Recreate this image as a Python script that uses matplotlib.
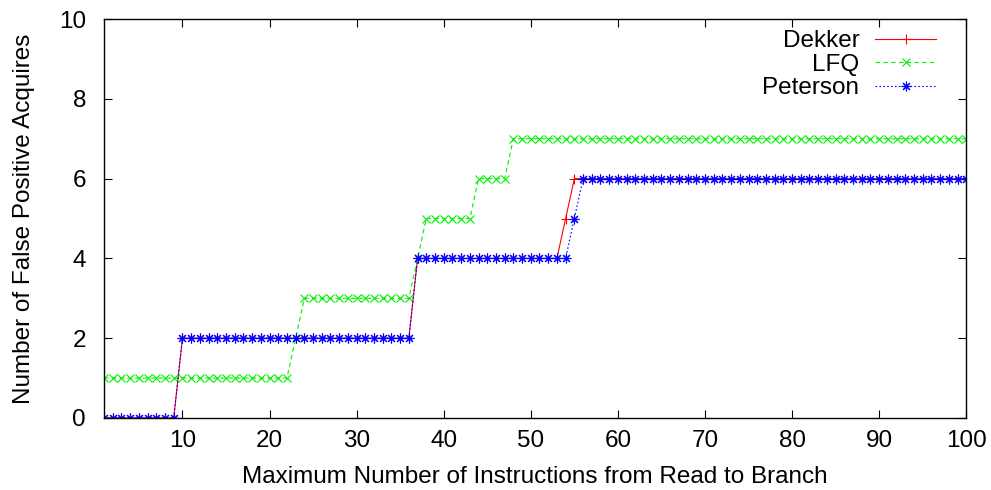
import numpy as np
import matplotlib
matplotlib.use("Agg")
import matplotlib.pyplot as plt

plt.rcParams["font.family"] = ["Liberation Sans", "DejaVu Sans"]

# instruction window 1..100
max_instr = list(range(1, 101))

dekker = [0, 0, 0, 0, 0, 0, 0, 0, 0, 2,
          2, 2, 2, 2, 2, 2, 2, 2, 2, 2,
          2, 2, 2, 2, 2, 2, 2, 2, 2, 2,
          2, 2, 2, 2, 2, 2, 4, 4, 4, 4,
          4, 4, 4, 4, 4, 4, 4, 4, 4, 4,
          4, 4, 4, 5, 6, 6, 6, 6, 6, 6,
          6, 6, 6, 6, 6, 6, 6, 6, 6, 6,
          6, 6, 6, 6, 6, 6, 6, 6, 6, 6,
          6, 6, 6, 6, 6, 6, 6, 6, 6, 6,
          6, 6, 6, 6, 6, 6, 6, 6, 6, 6]

lfq = [1, 1, 1, 1, 1, 1, 1, 1, 1, 1,
       1, 1, 1, 1, 1, 1, 1, 1, 1, 1,
       1, 1, 2, 3, 3, 3, 3, 3, 3, 3,
       3, 3, 3, 3, 3, 3, 4, 5, 5, 5,
       5, 5, 5, 6, 6, 6, 6, 7, 7, 7,
       7, 7, 7, 7, 7, 7, 7, 7, 7, 7,
       7, 7, 7, 7, 7, 7, 7, 7, 7, 7,
       7, 7, 7, 7, 7, 7, 7, 7, 7, 7,
       7, 7, 7, 7, 7, 7, 7, 7, 7, 7,
       7, 7, 7, 7, 7, 7, 7, 7, 7, 7]

peterson = [0, 0, 0, 0, 0, 0, 0, 0, 0, 2,
            2, 2, 2, 2, 2, 2, 2, 2, 2, 2,
            2, 2, 2, 2, 2, 2, 2, 2, 2, 2,
            2, 2, 2, 2, 2, 2, 4, 4, 4, 4,
            4, 4, 4, 4, 4, 4, 4, 4, 4, 4,
            4, 4, 4, 4, 5, 6, 6, 6, 6, 6,
            6, 6, 6, 6, 6, 6, 6, 6, 6, 6,
            6, 6, 6, 6, 6, 6, 6, 6, 6, 6,
            6, 6, 6, 6, 6, 6, 6, 6, 6, 6,
            6, 6, 6, 6, 6, 6, 6, 6, 6, 6]

xticks = [10, 20, 30, 40, 50, 60, 70, 80, 90, 100]
yticks = [0, 2, 4, 6, 8, 10]

fig = plt.figure(figsize=(9.91, 4.9), dpi=100)
ax = fig.add_axes([0.105, 0.147, 0.870, 0.814])

asterisk = (8, 2, 0)
ax.plot(max_instr, dekker, color="#ff0000", lw=0.8, marker="+", ms=7, mew=0.8,
        label="Dekker")
ax.plot(max_instr, lfq, color="#00f000", lw=0.8, ls=(0, (4, 3)), marker="x",
        ms=5.5, mew=0.8, label="LFQ")
ax.plot(max_instr, peterson, color="#0000ff", lw=0.8, ls=(0, (1.5, 2)),
        marker=asterisk, ms=7, mew=0.8, label="Peterson")

ax.set_xlim(1, 100)
ax.set_ylim(0, 10)
ax.set_xticks(xticks)
ax.set_yticks(yticks)
ax.tick_params(direction="in", length=6, width=0.8, top=True, right=True,
               labelsize=17.5, pad=13)
ax.tick_params(axis="x", pad=9)
for s in ax.spines.values():
    s.set_linewidth(1.0)

ax.set_xlabel("Maximum Number of Instructions from Read to Branch",
              fontsize=17.5, labelpad=10)
ax.set_ylabel("Number of False Positive Acquires", fontsize=17.5, labelpad=17)

leg = ax.legend(loc="upper right", bbox_to_anchor=(0.979, 1.003),
                frameon=False, markerfirst=False, numpoints=1,
                handlelength=2.5, handletextpad=0.65, labelspacing=0.06,
                borderpad=0, fontsize=17.5)

fig.savefig("out.png", dpi=100)
